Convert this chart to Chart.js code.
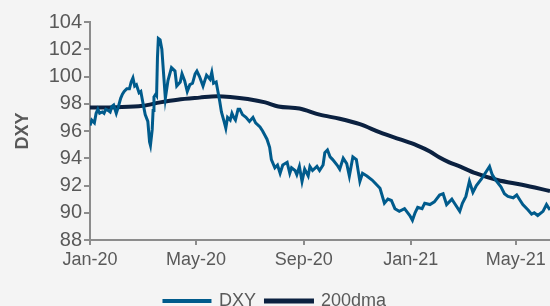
<!DOCTYPE html>
<html>
<head>
<meta charset="utf-8">
<script src="https://cdn.jsdelivr.net/npm/chart.js@4.4.1/dist/chart.umd.min.js"></script>
<style>
  html, body { margin: 0; padding: 0; background: #f4f4f4; overflow: hidden; }
  #wrap { width: 550px; height: 320px; position: relative; }
</style>
</head>
<body>
<div id="wrap"><canvas id="chart"></canvas></div>
<script>
// days counted from 1 Jan 2020
const tickDays = [0, 121, 244, 366, 486];
const tickLabels = ["Jan-20", "May-20", "Sep-20", "Jan-21", "May-21"];

const dxyDays = [
  0, 2, 5, 7, 9, 11, 14, 16, 18, 21, 23, 25, 27, 30, 32, 35, 37, 39, 42, 45,
  47, 49, 51, 53, 56, 58, 60, 63, 66, 68, 69, 71, 72, 73, 75, 76, 77, 78, 80, 82,
  84, 86, 89, 93, 97, 99, 103, 105, 108, 111, 114, 117, 120, 122, 125, 129, 131, 133, 137, 139,
  141, 144, 146, 148, 150, 153, 155, 157, 160, 162, 164, 166, 169, 171, 174, 178, 182, 186, 189, 194,
  197, 202, 205, 207, 211, 214, 217, 220, 225, 228, 230, 234, 236, 239, 242, 245, 249, 251, 254, 259,
  262, 266, 268, 271, 274, 277, 282, 285, 289, 293, 296, 300, 304, 308, 311, 316, 322, 325, 331, 336,
  340, 344, 348, 353, 359, 365, 368, 371, 374, 379, 382, 388, 393, 399, 403, 407, 413, 416, 422, 425,
  429, 433, 437, 441, 447, 451, 456, 459, 463, 469, 473, 477, 483, 487, 491, 494, 500, 504, 507, 511,
  517, 521, 525
];
const dxyValues = [
  96.4, 96.8, 96.6, 97.3, 97.6, 97.3, 97.4, 97.3, 97.6, 97.5, 97.4, 97.8, 97.9, 97.3, 97.7, 98.4, 98.7, 98.9, 99.1, 99.1,
  99.6, 99.9, 99.3, 99.4, 98.8, 98.9, 98.2, 97.2, 96.7, 95.2, 94.95, 96.1, 97.5, 98.5, 98.7, 98.6, 101.4, 102.8, 102.7, 102.0,
  100.2, 98.4, 99.7, 100.65, 100.4, 99.3, 99.6, 100.2, 99.7, 98.9, 99.4, 99.5, 100.2, 100.4, 100.0, 99.3, 99.7, 100.1, 99.8, 100.3,
  99.5, 99.6, 98.9, 98.2, 97.4, 96.7, 96.2, 97.0, 96.8, 97.3, 97.0, 96.8, 97.6, 97.6, 97.2, 97.0, 96.7, 97.0, 96.6, 96.3,
  96.0, 95.4, 94.8, 93.9, 93.3, 93.5, 92.9, 93.5, 93.7, 92.9, 93.3, 93.1, 92.8, 93.4, 92.3, 93.2, 92.7, 93.4, 93.1, 93.4,
  93.1, 93.5, 94.4, 94.6, 94.1, 93.9, 93.5, 93.2, 94.0, 93.6, 92.7, 94.1, 93.9, 92.3, 92.9, 92.7, 92.4, 92.2, 91.8, 90.7,
  91.0, 90.9, 90.3, 90.1, 90.3, 89.8, 89.45, 90.0, 90.4, 90.3, 90.7, 90.6, 90.8, 91.3, 91.4, 90.6, 91.0, 90.7, 90.1, 90.7,
  91.2, 92.3, 91.5, 92.0, 92.5, 92.9, 93.4, 92.8, 92.4, 91.9, 91.4, 91.2, 91.1, 91.3, 90.9, 90.6, 90.2, 89.9, 90.0, 89.8,
  90.1, 90.6, 90.2
];

const maDays = [0, 30, 60, 80, 100, 125, 145, 160, 180, 200, 215, 239, 262, 285, 308, 331, 353, 373, 388, 399, 410, 422, 440, 465, 493, 525];
const maValues = [97.72, 97.75, 97.85, 98.1, 98.3, 98.45, 98.55, 98.5, 98.35, 98.1, 97.8, 97.65, 97.2, 96.9, 96.5, 95.9, 95.4, 94.95, 94.5, 94.05, 93.7, 93.4, 92.9, 92.4, 92.05, 91.6];

const TEXT = "#595959";
const AXIS = "#8c8c8c";
const DXY_COLOR = "#005b8c";
const MA_COLOR = "#0b2140";
const FONT = "'Liberation Sans', Arial, sans-serif";

function toPoints(days, values) {
  return days.map((d, i) => ({ x: d, y: values[i] }));
}

new Chart(document.getElementById("chart"), {
  type: "line",
  data: {
    datasets: [
      {
        label: "DXY",
        data: toPoints(dxyDays, dxyValues),
        borderColor: DXY_COLOR,
        backgroundColor: DXY_COLOR,
        borderWidth: 3,
        pointRadius: 0,
        tension: 0,
      },
      {
        label: "200dma",
        data: toPoints(maDays, maValues),
        borderColor: MA_COLOR,
        backgroundColor: MA_COLOR,
        borderWidth: 4,
        pointRadius: 0,
        tension: 0.4,
        cubicInterpolationMode: "monotone",
      },
    ],
  },
  options: {
    responsive: true,
    maintainAspectRatio: false,
    animation: false,
    layout: { padding: { top: 22, right: 0, left: 0, bottom: 0 } },
    font: { family: FONT },
    plugins: {
      tooltip: { enabled: false },
      legend: {
        position: "bottom",
        labels: {
          boxWidth: 46,
          boxHeight: 1,
          color: TEXT,
          padding: 10,
          font: { family: FONT, size: 18 },
        },
      },
    },
    scales: {
      x: {
        type: "linear",
        min: 0,
        max: 525,
        afterBuildTicks: (scale) => {
          scale.ticks = tickDays.map((v) => ({ value: v }));
        },
        afterFit: (scale) => {
          scale.height = 42;
        },
        ticks: {
          autoSkip: false,
          maxRotation: 0,
          color: TEXT,
          padding: 4,
          font: { family: FONT, size: 18 },
          callback: (value) => tickLabels[tickDays.indexOf(value)],
        },
        grid: { drawOnChartArea: false, tickLength: 5, color: AXIS, lineWidth: 2 },
        border: { color: AXIS, width: 2 },
      },
      y: {
        min: 88,
        max: 104,
        afterFit: (scale) => {
          scale.width = 90;
        },
        ticks: {
          stepSize: 2,
          color: TEXT,
          padding: 2,
          font: { family: FONT, size: 20 },
        },
        grid: { drawOnChartArea: false, tickLength: 6, color: AXIS, lineWidth: 2 },
        border: { color: AXIS, width: 2 },
        title: {
          display: true,
          text: "DXY",
          color: TEXT,
          padding: { top: 12, bottom: 0 },
          font: { family: FONT, size: 18, weight: "bold" },
        },
      },
    },
  },
});
</script>
</body>
</html>
